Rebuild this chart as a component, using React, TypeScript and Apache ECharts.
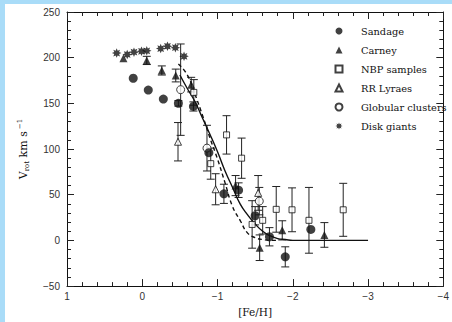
import React, { useEffect, useRef } from "react";
import * as echarts from "echarts";

// ---- Data ----
const sandageFeH = [0.12, -0.08, -0.28, -0.48, -0.68, -0.885, -1.085, -1.28, -1.5, -1.69, -1.9, -2.24];
const sandageVrot = [177.5, 164.5, 154.7, 150, 146.6, 96, 51, 55, 27, 4, -18, 12];
const sandageErr = [0, 0, 0, 3, 5, 0, 10.5, 8, 10, 10, 11, 0];

const carneyFeH = [0.25, -0.06, -0.26, -0.445, -0.65, -1.24, -1.56, -1.86, -2.42];
const carneyVrot = [199.5, 197, 186, 180.5, 170.5, 60, -8, 11, 6];
const carneyErr = [0, 4.5, 5, 7, 8, 11, 14, 10.5, 13.5];

const nbpFeH = [-0.685, -0.91, -1.12, -1.32, -1.46, -1.6, -1.78, -1.99, -2.215, -2.67];
const nbpVrot = [162, 84, 115.5, 90, 17.5, 22, 34, 33.5, 22, 33.5];
const nbpErr = [14, 17, 21, 22, 26, 15, 25, 24, 36, 29];

const rrFeH = [-0.475, -0.975, -1.54];
const rrVrot = [108, 56, 52];
const rrErr = [21, 17, 19];

const gcFeH = [-0.51, -0.86, -1.555];
const gcVrot = [165, 101, 43];
const gcErr = [50, 25, 15];

const diskFeH = [0.34, 0.2, 0.11, 0.01, -0.06, -0.245, -0.335, -0.44, -0.555];
const diskVrot = [205, 203.5, 206, 207, 207.5, 210, 212.5, 211, 201.5];

const solidFeH = [-0.5, -0.6, -0.7, -0.8, -0.9, -1.0, -1.1, -1.2, -1.3, -1.4, -1.5, -1.6, -1.7, -1.8, -1.9, -2.0, -2.5, -3.0];
const solidVrot = [181, 166, 152, 134, 116, 97, 76, 58, 40, 28, 18, 10, 5, 2, 1, 0, 0, 0];

const dashedFeH = [-0.48, -0.6, -0.7, -0.8, -0.9, -1.0, -1.1, -1.2, -1.3, -1.4, -1.5, -1.6, -1.7, -1.8];
const dashedVrot = [193, 181, 160, 137, 112, 89, 63, 37, 22, 8, 3, 1, 0, 0];

const legendNames = ["Sandage", "Carney", "NBP samples", "RR Lyraes", "Globular clusters", "Disk giants"];

const ASTERISK =
  "path://M20 10 L15.08 12.1 L17.07 17.07 L12.1 15.08 L10 20 L7.9 15.08 L2.93 17.07 L4.92 12.1 L0 10 L4.92 7.9 L2.93 2.93 L7.9 4.92 L10 0 L12.1 4.92 L17.07 2.93 L15.08 7.9 Z";

const zip = (xs: number[], ys: number[]) => xs.map((x, i) => [x, ys[i]]);
const errs = (xs: number[], ys: number[], es: number[]) =>
  xs.map((x, i) => [x, ys[i] - es[i], ys[i] + es[i]]).filter((_, i) => es[i] > 0);

const minus = (v: number) => String(v).replace("-", "\u2212");

export default function App() {
  const ref = useRef<HTMLDivElement>(null);
  useEffect(() => {
    if (!ref.current) return;
    const chart = echarts.init(ref.current, null, { renderer: "svg" });
    const errData = [
      ...errs(sandageFeH, sandageVrot, sandageErr),
      ...errs(carneyFeH, carneyVrot, carneyErr),
      ...errs(nbpFeH, nbpVrot, nbpErr),
      ...errs(rrFeH, rrVrot, rrErr),
      ...errs(gcFeH, gcVrot, gcErr),
    ];
    const axisLine = { show: true, onZero: false, lineStyle: { color: "#111", width: 1 } };
    const tickCommon = {
      axisLine,
      axisTick: { show: true, inside: true, length: 7, lineStyle: { color: "#222" } },
      minorTick: { show: true, splitNumber: 5, length: 4, lineStyle: { color: "#222" } },
      splitLine: { show: false },
    };
    const labelStyle = { fontFamily: "Liberation Sans", fontSize: 10, color: "#333" };
    const open = { color: "#fff", borderColor: "#111", borderWidth: 1 };
    const filled = { color: "#111" };
    chart.setOption({
      animation: false,
      backgroundColor: "#fff",
      grid: { left: 62, top: 8, right: 2, bottom: 25 },
      xAxis: [
        {
          type: "value",
          position: "bottom",
          min: -4,
          max: 1,
          interval: 1,
          inverse: true,
          ...tickCommon,
          axisLabel: { ...labelStyle, margin: 5, formatter: minus, showMaxLabel: true },
          name: "[Fe/H]",
          nameLocation: "middle",
          nameGap: 15,
          nameTextStyle: { fontFamily: "DejaVu Serif", fontSize: 10.5, color: "#111" },
        },
        {
          type: "value",
          position: "top",
          min: -4,
          max: 1,
          interval: 1,
          inverse: true,
          ...tickCommon,
          axisLabel: { show: false },
        },
      ],
      yAxis: [
        {
          type: "value",
          position: "left",
          min: -50,
          max: 250,
          interval: 50,
          ...tickCommon,
          axisLabel: { ...labelStyle, margin: 7, formatter: minus },
          name: "{v|V}{sub|rot}{v| km s}{sup|\u22121}",
          nameLocation: "middle",
          nameGap: 37,
          nameTextStyle: {
            rich: {
              v: { fontFamily: "DejaVu Serif", fontSize: 11, color: "#111" },
              sub: { fontFamily: "DejaVu Serif", fontSize: 7, color: "#111", verticalAlign: "bottom", padding: [7, 0, 0, 0] },
              sup: { fontFamily: "DejaVu Serif", fontSize: 7, color: "#111", verticalAlign: "top", padding: [0, 0, 7, 2] },
            },
          },
        },
        {
          type: "value",
          position: "right",
          min: -50,
          max: 250,
          interval: 50,
          ...tickCommon,
          axisLabel: { show: false },
        },
      ],
      legend: {
        orient: "vertical",
        left: 324.5,
        top: 16,
        itemWidth: 7,
        itemHeight: 7,
        itemGap: 7,
        data: legendNames,
        formatter: (name: string) => "{gap|}" + name,
        textStyle: {
          fontFamily: "DejaVu Serif",
          fontSize: 9.8,
          color: "#111",
          lineHeight: 12,
          rich: { gap: { width: 13.5 } },
        },
      },
      series: [
        {
          name: "errors",
          type: "custom",
          z: 1,
          encode: { x: 0, y: [1, 2] },
          data: errData,
          renderItem: (params: any, api: any) => {
            const x = api.value(0);
            const lo = api.coord([x, api.value(1)]);
            const hi = api.coord([x, api.value(2)]);
            const w = 4;
            const style = { stroke: "#222", lineWidth: 1 };
            return {
              type: "group",
              children: [
                { type: "line", shape: { x1: lo[0], y1: lo[1], x2: hi[0], y2: hi[1] }, style },
                { type: "line", shape: { x1: lo[0] - w, y1: lo[1], x2: lo[0] + w, y2: lo[1] }, style },
                { type: "line", shape: { x1: hi[0] - w, y1: hi[1], x2: hi[0] + w, y2: hi[1] }, style },
              ],
            };
          },
        },
        {
          name: "model solid",
          type: "line",
          data: zip(solidFeH, solidVrot),
          symbol: "none",
          smooth: true,
          lineStyle: { color: "#111", width: 1.4 },
          z: 2,
        },
        {
          name: "model dashed",
          type: "line",
          data: zip(dashedFeH, dashedVrot),
          symbol: "none",
          smooth: true,
          lineStyle: { color: "#111", width: 1.4, type: [4, 3] },
          z: 2,
        },
        { name: "Sandage", type: "scatter", data: zip(sandageFeH, sandageVrot), symbol: "circle", symbolSize: 9, itemStyle: filled, z: 5 },
        { name: "Carney", type: "scatter", data: zip(carneyFeH, carneyVrot), symbol: "triangle", symbolSize: 8, itemStyle: filled, z: 5 },
        { name: "NBP samples", type: "scatter", data: zip(nbpFeH, nbpVrot), symbol: "rect", symbolSize: 6, itemStyle: open, z: 4 },
        { name: "RR Lyraes", type: "scatter", data: zip(rrFeH, rrVrot), symbol: "triangle", symbolSize: 7, itemStyle: open, z: 4 },
        { name: "Globular clusters", type: "scatter", data: zip(gcFeH, gcVrot), symbol: "circle", symbolSize: 8, itemStyle: open, z: 4 },
        { name: "Disk giants", type: "scatter", data: zip(diskFeH, diskVrot), symbol: ASTERISK, symbolSize: 9.5, itemStyle: filled, z: 5 },
      ],
    });
    return () => chart.dispose();
  }, []);
  return (
    <div style={{ position: "fixed", left: 0, top: 0, width: 452, height: 322, background: "#a9dcf8" }}>
      <div ref={ref} style={{ position: "absolute", left: 5, top: 4, width: 447, height: 318, background: "#fff" }} />
    </div>
  );
}
